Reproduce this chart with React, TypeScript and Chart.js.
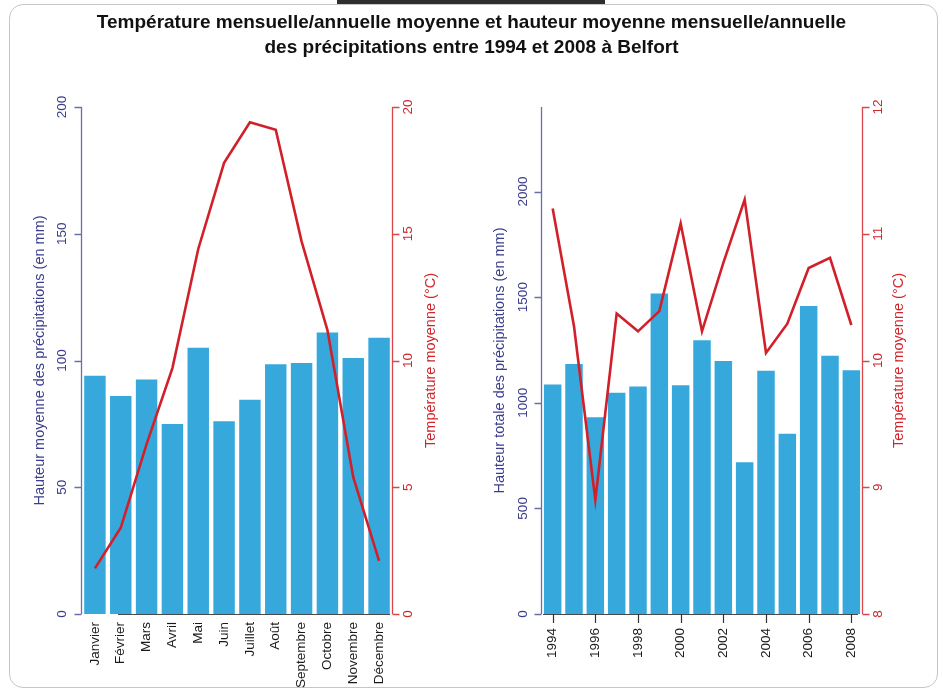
import React, { useEffect, useRef } from 'react';
import { Chart, registerables } from 'chart.js';

Chart.register(...registerables);

// Monthly averages 1994–2008
const months = ['Janvier', 'Février', 'Mars', 'Avril', 'Mai', 'Juin', 'Juillet', 'Août', 'Septembre', 'Octobre', 'Novembre', 'Décembre'];
const monthlyPrecip = [94, 86, 92.5, 75, 105, 76, 84.5, 98.5, 99, 111, 101, 109];
const monthlyTemp = [1.8, 3.4, 6.7, 9.7, 14.4, 17.8, 19.4, 19.1, 14.7, 11.2, 5.4, 2.1];

// Annual totals / averages
const years = ['1994', '1995', '1996', '1997', '1998', '1999', '2000', '2001', '2002', '2003', '2004', '2005', '2006', '2007', '2008'];
const annualPrecip = [1086, 1183, 931, 1047, 1077, 1517, 1083, 1296, 1198, 718, 1151, 853, 1458, 1223, 1154];
const annualTemp = [11.2, 10.27, 8.9, 10.37, 10.23, 10.39, 11.08, 10.23, 10.77, 11.27, 10.06, 10.29, 10.73, 10.81, 10.28];

// Axis ticks
const monthlyPrecipTicks = [0, 50, 100, 150, 200];
const monthlyTempTicks = [0, 5, 10, 15, 20];
const annualPrecipTicks = [0, 500, 1000, 1500, 2000];
const annualTempTicks = [8, 9, 10, 11, 12];
const yearTickLabels = ['1994', '1996', '1998', '2000', '2002', '2004', '2006', '2008'];

const NAVY = '#3a3e8c';
const NAVY_LINE = '#6a6eab';
const RED = '#d0262b';
const RED_LINE = '#d9474a';
const BAR = '#36a8dc';
const LINE = '#d2202a';
const FONT = '"Liberation Sans", Arial, Helvetica, sans-serif';

type AxesSpec = {
  leftTicks: number[];
  rightTicks: number[];
  leftTitle: string;
  rightTitle: string;
  leftLabelOff: number;
  leftTitleOff: number;
  rightLabelOff: number;
  rightTitleOff: number;
  xLabels: (string | null)[];
  xTickMarks: boolean;
  xLabelGap: number;
  baseFrom: number;
  baseTo: number;
};

function rotatedText(ctx: CanvasRenderingContext2D, text: string, x: number, y: number, align: CanvasTextAlign) {
  ctx.save();
  ctx.translate(x, y);
  ctx.rotate(-Math.PI / 2);
  ctx.textAlign = align;
  ctx.textBaseline = 'middle';
  ctx.fillText(text, 0, 0);
  ctx.restore();
}

function axesPlugin(spec: AxesSpec) {
  return {
    id: 'baseAxes',
    afterDatasetsDraw(chart: any) {
      const ctx: CanvasRenderingContext2D = chart.ctx;
      const { left, right, top, bottom } = chart.chartArea;
      const yL = chart.scales.yL;
      const yR = chart.scales.yR;
      const x = chart.scales.x;
      const tick = 7;
      ctx.save();

      // bottom base line
      ctx.strokeStyle = '#4a4a4a';
      ctx.lineWidth = 1.2;
      ctx.beginPath();
      ctx.moveTo(left + spec.baseFrom, bottom + 0.5);
      ctx.lineTo(right - spec.baseTo, bottom + 0.5);
      ctx.stroke();

      // left axis
      ctx.strokeStyle = NAVY_LINE;
      ctx.lineWidth = 1.3;
      ctx.beginPath();
      ctx.moveTo(left - 0.5, top);
      ctx.lineTo(left - 0.5, bottom);
      spec.leftTicks.forEach((v) => {
        const py = Math.round(yL.getPixelForValue(v)) + 0.5;
        ctx.moveTo(left - 0.5, py);
        ctx.lineTo(left - 0.5 - tick, py);
      });
      ctx.stroke();
      ctx.fillStyle = NAVY;
      ctx.font = `13.5px ${FONT}`;
      spec.leftTicks.forEach((v) => {
        rotatedText(ctx, String(v), left - spec.leftLabelOff, yL.getPixelForValue(v), 'center');
      });
      ctx.font = `14.5px ${FONT}`;
      rotatedText(ctx, spec.leftTitle, left - spec.leftTitleOff, (top + bottom) / 2, 'center');

      // right axis
      ctx.strokeStyle = RED_LINE;
      ctx.beginPath();
      ctx.moveTo(right + 0.5, top);
      ctx.lineTo(right + 0.5, bottom);
      spec.rightTicks.forEach((v) => {
        const py = Math.round(yR.getPixelForValue(v)) + 0.5;
        ctx.moveTo(right + 0.5, py);
        ctx.lineTo(right + 0.5 + tick, py);
      });
      ctx.stroke();
      ctx.fillStyle = RED;
      ctx.font = `13.5px ${FONT}`;
      spec.rightTicks.forEach((v) => {
        rotatedText(ctx, String(v), right + spec.rightLabelOff, yR.getPixelForValue(v), 'center');
      });
      ctx.font = `14.5px ${FONT}`;
      rotatedText(ctx, spec.rightTitle, right + spec.rightTitleOff, (top + bottom) / 2, 'center');

      // category labels
      ctx.fillStyle = '#1a1a1a';
      ctx.strokeStyle = '#333';
      ctx.lineWidth = 1.2;
      ctx.font = `13.5px ${FONT}`;
      spec.xLabels.forEach((lab, i) => {
        if (!lab) return;
        const px = x.getPixelForValue(i);
        if (spec.xTickMarks) {
          ctx.beginPath();
          ctx.moveTo(Math.round(px) + 0.5, bottom);
          ctx.lineTo(Math.round(px) + 0.5, bottom + 9);
          ctx.stroke();
        }
        rotatedText(ctx, lab, px, bottom + spec.xLabelGap, 'right');
      });
      ctx.restore();
    },
  };
}

type PanelProps = {
  labels: string[];
  bars: number[];
  line: number[];
  leftMax: number;
  rightMin: number;
  rightMax: number;
  padding: { left: number; right: number; top: number; bottom: number };
  width: number;
  height: number;
  barPct: number;
  spec: AxesSpec;
};

function Panel(p: PanelProps) {
  const ref = useRef<HTMLCanvasElement>(null);
  useEffect(() => {
    if (!ref.current) return;
    const chart = new Chart(ref.current, {
      type: 'bar',
      data: {
        labels: p.labels,
        datasets: [
          {
            type: 'line',
            data: p.line,
            yAxisID: 'yR',
            borderColor: LINE,
            borderWidth: 2.6,
            pointRadius: 0,
            tension: 0,
            fill: false,
            order: 0,
          } as any,
          {
            type: 'bar',
            data: p.bars,
            yAxisID: 'yL',
            backgroundColor: BAR,
            borderWidth: 0,
            categoryPercentage: 1,
            barPercentage: p.barPct,
            order: 1,
          },
        ],
      },
      options: {
        responsive: false,
        animation: false,
        layout: { padding: p.padding },
        plugins: { legend: { display: false }, tooltip: { enabled: false }, title: { display: false } },
        scales: {
          x: { display: false, offset: true },
          yL: { display: false, position: 'left', min: 0, max: p.leftMax },
          yR: { display: false, position: 'right', min: p.rightMin, max: p.rightMax },
        },
      },
      plugins: [axesPlugin(p.spec)],
    });
    return () => chart.destroy();
  }, []);
  return <canvas ref={ref} width={p.width} height={p.height} style={{ display: 'block', width: p.width, height: p.height }} />;
}

export default function App() {
  return (
    <div style={{ position: 'fixed', left: 0, top: 0, width: 943, height: 695, background: '#fff', overflow: 'hidden' }}>
      <div style={{ position: 'absolute', left: 9, top: 4, width: 929, height: 684, border: '1px solid #c6c6c6', borderRadius: 14, boxSizing: 'border-box' }} />
      <div style={{ position: 'absolute', left: 337, top: 0, width: 268, height: 4, background: '#2e2e2e' }} />
      <div style={{ position: 'absolute', left: 0, top: 0, width: 471, height: 695 }}>
        <Panel
          labels={months}
          bars={monthlyPrecip}
          line={monthlyTemp}
          leftMax={200}
          rightMin={0}
          rightMax={20}
          padding={{ left: 82, right: 79, top: 107, bottom: 81 }}
          width={471}
          height={695}
          barPct={0.83}
          spec={{
            leftTicks: monthlyPrecipTicks,
            rightTicks: monthlyTempTicks,
            leftTitle: 'Hauteur moyenne des précipitations (en mm)',
            rightTitle: 'Température moyenne (°C)',
            leftLabelOff: 20,
            leftTitleOff: 42,
            rightLabelOff: 16,
            rightTitleOff: 39,
            xLabels: months,
            xTickMarks: false,
            xLabelGap: 8,
            baseFrom: 36,
            baseTo: 2,
          }}
        />
      </div>
      <div style={{ position: 'absolute', left: 471, top: 0, width: 472, height: 695 }}>
        <Panel
          labels={years}
          bars={annualPrecip}
          line={annualTemp}
          leftMax={2400}
          rightMin={8}
          rightMax={12}
          padding={{ left: 71, right: 81, top: 107, bottom: 81 }}
          width={472}
          height={695}
          barPct={0.82}
          spec={{
            leftTicks: annualPrecipTicks,
            rightTicks: annualTempTicks,
            leftTitle: 'Hauteur totale des précipitations (en mm)',
            rightTitle: 'Température moyenne (°C)',
            leftLabelOff: 19,
            leftTitleOff: 42,
            rightLabelOff: 16,
            rightTitleOff: 37,
            xLabels: years.map((y) => (yearTickLabels.includes(y) ? y : null)),
            xTickMarks: true,
            xLabelGap: 14,
            baseFrom: 1,
            baseTo: 4,
          }}
        />
      </div>
      <div
        style={{
          position: 'absolute',
          left: 0,
          top: 9,
          width: 943,
          textAlign: 'center',
          fontFamily: FONT,
          fontWeight: 'bold',
          fontSize: 19,
          lineHeight: '25px',
          color: '#111',
        }}
      >
        Température mensuelle/annuelle moyenne et hauteur moyenne mensuelle/annuelle
        <br />
        des précipitations entre 1994 et 2008 à Belfort
      </div>
    </div>
  );
}
